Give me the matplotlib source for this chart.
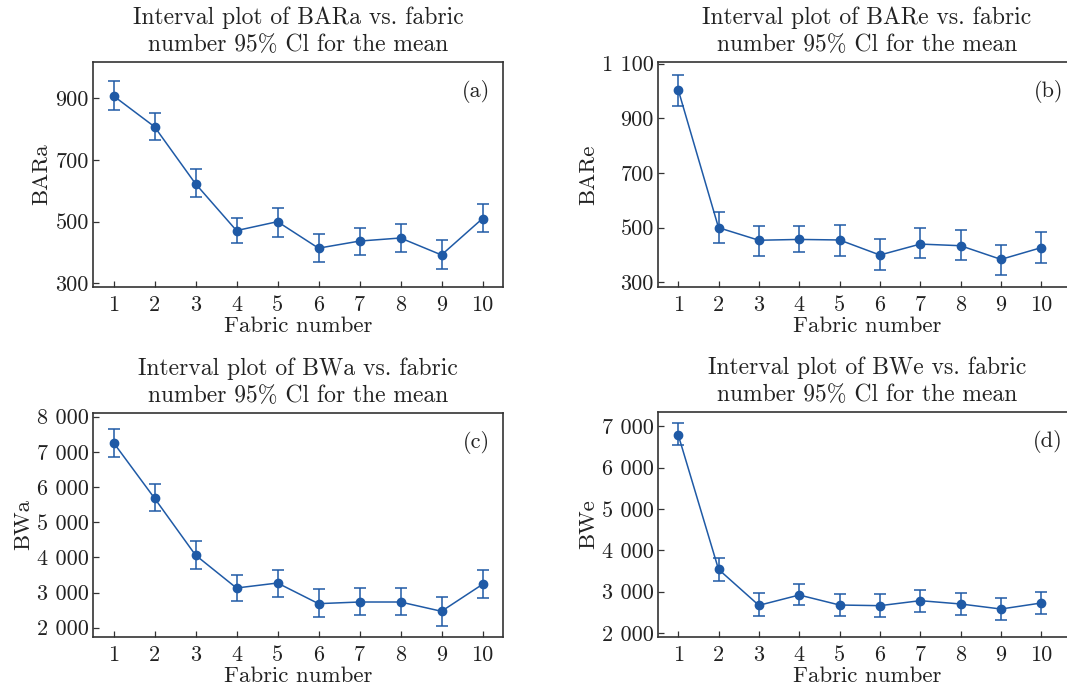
import matplotlib
matplotlib.use("Agg")
import matplotlib.pyplot as plt
import numpy as np

plt.rcParams['font.family'] = ['cmr10', 'DejaVu Serif']
plt.rcParams['mathtext.fontset'] = 'cm'
plt.rcParams['axes.unicode_minus'] = False

fabric = [1, 2, 3, 4, 5, 6, 7, 8, 9, 10]

bara_mean = [908, 808, 623, 471, 500, 414, 437, 447, 392, 510]
bara_low = [862, 765, 579, 431, 451, 369, 392, 403, 347, 466]
bara_high = [956, 853, 670, 513, 545, 459, 480, 492, 441, 558]

bare_mean = [1005, 500, 454, 457, 455, 400, 440, 434, 384, 427]
bare_low = [946, 444, 398, 410, 398, 346, 388, 380, 328, 372]
bare_high = [1060, 556, 507, 507, 511, 457, 498, 491, 438, 483]

bwa_mean = [7262, 5682, 4064, 3128, 3270, 2683, 2730, 2730, 2466, 3232]
bwa_low = [6865, 5323, 3676, 2768, 2863, 2305, 2352, 2352, 2059, 2844]
bwa_high = [7650, 6089, 4452, 3487, 3648, 3090, 3137, 3128, 2872, 3629]

bwe_mean = [6798, 3540, 2669, 2919, 2677, 2661, 2782, 2702, 2580, 2726]
bwe_low = [6556, 3266, 2411, 2677, 2411, 2395, 2508, 2435, 2306, 2452]
bwe_high = [7081, 3815, 2960, 3177, 2952, 2944, 3048, 2968, 2847, 2984]

titles = [
    "Interval plot of BARa vs. fabric\nnumber 95% Cl for the mean",
    "Interval plot of BARe vs. fabric\nnumber 95% Cl for the mean",
    "Interval plot of BWa vs. fabric\nnumber 95% Cl for the mean",
    "Interval plot of BWe vs. fabric\nnumber 95% Cl for the mean",
]
ylabels = ["BARa", "BARe", "BWa", "BWe"]
panel_tags = ["(a)", "(b)", "(c)", "(d)"]
yticks_list = [
    [300, 500, 700, 900],
    [300, 500, 700, 900, 1100],
    [2000, 3000, 4000, 5000, 6000, 7000, 8000],
    [2000, 3000, 4000, 5000, 6000, 7000],
]
ylims = [(288, 1018), (283, 1106), (1735, 8104), (1903, 7347)]
xlims = [(0.5, 10.5), (0.5, 10.86), (0.5, 10.5), (0.5, 10.86)]

W, H = 1067, 690
# axes boxes in pixels: left, top, right, bottom
boxes = [(93, 62, 503, 287), (658, 62, 1076, 287),
         (93, 413, 503, 637), (658, 412, 1076, 637)]

series = [(bara_mean, bara_low, bara_high), (bare_mean, bare_low, bare_high),
          (bwa_mean, bwa_low, bwa_high), (bwe_mean, bwe_low, bwe_high)]

blue = '#1f5aa6'
txt = '#222222'

fig = plt.figure(figsize=(W / 100, H / 100), dpi=100)


def fmt(v):
    s = f"{v:d}"
    if v >= 1000:
        s = s[:-3] + " " + s[-3:]
    return s


for i in range(4):
    l, t, r, b = boxes[i]
    ax = fig.add_axes([l / W, 1 - b / H, (r - l) / W, (b - t) / H])
    m, lo, hi = (np.array(a, dtype=float) for a in series[i])
    ax.errorbar(fabric, m, yerr=[m - lo, hi - m], fmt='o-', color=blue,
                ecolor=blue, elinewidth=1.1, capsize=4, capthick=1.1,
                markersize=6, linewidth=1.1)
    ax.set_xlim(*xlims[i])
    ax.set_ylim(*ylims[i])
    ax.set_xticks(fabric)
    ax.set_xticklabels([str(f) for f in fabric])
    ax.set_yticks(yticks_list[i])
    ax.set_yticklabels([fmt(v) for v in yticks_list[i]])
    ax.tick_params(axis='both', direction='in', length=4, width=0.9,
                   labelsize=16, colors='#333333', labelcolor=txt,
                   top=False, right=False)
    ax.tick_params(axis='x', pad=6)
    ax.tick_params(axis='y', pad=3)
    for sp in ax.spines.values():
        sp.set_linewidth(1.2)
        sp.set_color('#333333')
    ax.set_xlabel("Fabric number", fontsize=16.5, color=txt, labelpad=1)
    ax.set_ylabel(ylabels[i], fontsize=16.5, color=txt, labelpad=3)
    ax.set_title(titles[i], fontsize=17, color=txt, pad=8, linespacing=1.3)
    tag_x = (l + 397) if i in (0, 2) else (l + 405)
    ax.text((tag_x - l) / (r - l), 0.87, panel_tags[i], transform=ax.transAxes,
            ha='right', va='center', fontsize=16, color=txt)

fig.savefig("out.png", dpi=100)
